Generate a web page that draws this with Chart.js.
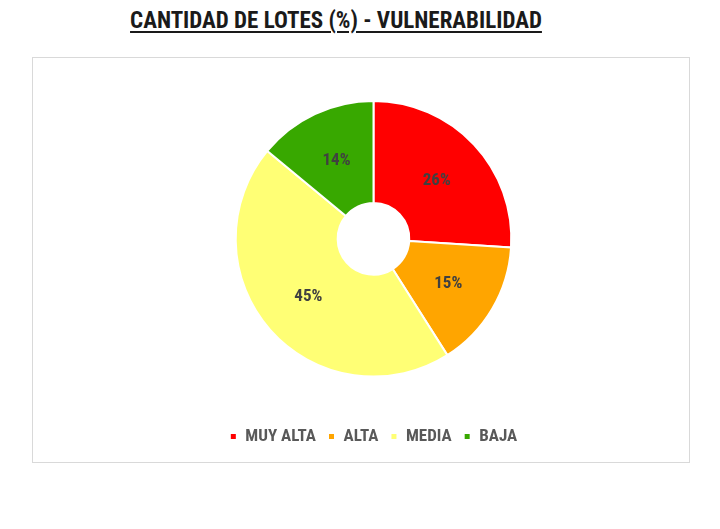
<!DOCTYPE html>
<html>
<head>
<meta charset="utf-8">
<script src="https://cdn.jsdelivr.net/npm/chart.js@4.4.1/dist/chart.umd.min.js"></script>
<style>
  html, body { margin: 0; padding: 0; background: #fff; }
  body { width: 720px; height: 529px; position: relative; overflow: hidden; }
  #titulo {
    position: absolute; left: 0; top: 7px; width: 672px; text-align: center;
    font-family: Roboto, sans-serif; font-stretch: condensed;
    font-weight: bold; font-size: 23px; color: #1a1a1a;
    text-decoration: underline; text-underline-offset: 3px; text-decoration-thickness: 2px;
  }
  #marco {
    position: absolute; left: 32px; top: 57px; width: 656px; height: 404px;
    border: 1px solid #d9d9d9;
  }
  #grafico { position: absolute; left: 0; top: 0; }
</style>
</head>
<body>
<div id="titulo">CANTIDAD DE LOTES (%) - VULNERABILIDAD</div>
<div id="marco"></div>
<canvas id="grafico" width="720" height="529"></canvas>
<script>
// datos
let categorias = ["MUY ALTA", "ALTA", "MEDIA", "BAJA"];
let porcentajes = [26, 15, 45, 14];
let colores = ["#ff0000", "#ffa500", "#ffff75", "#38a800"];

let fuente = "Roboto, sans-serif";

// etiquetas dentro de cada sector
let etiquetas = {
  id: "etiquetas",
  afterDatasetsDraw(chart) {
    let ctx = chart.ctx;
    let meta = chart.getDatasetMeta(0);
    ctx.save();
    ctx.font = "condensed bold 17px " + fuente;
    ctx.fillStyle = "#404040";
    ctx.textAlign = "center";
    ctx.textBaseline = "middle";
    meta.data.forEach((arco, i) => {
      let p = arco.tooltipPosition();
      ctx.fillText(porcentajes[i] + "%", p.x, p.y + 1);
    });
    ctx.restore();
  },
};

new Chart(document.getElementById("grafico"), {
  type: "doughnut",
  data: {
    labels: categorias,
    datasets: [
      {
        data: porcentajes,
        backgroundColor: colores,
        borderColor: "#ffffff",
        borderWidth: 2,
      },
    ],
  },
  options: {
    responsive: false,
    animation: false,
    cutout: "26%",
    layout: {
      padding: { left: 27, right: 0, top: 100, bottom: 74 },
    },
    plugins: {
      tooltip: { enabled: false },
      legend: {
        position: "bottom",
        title: { display: true, text: "", padding: { top: 24, bottom: 0 } },
        labels: {
          boxWidth: 7,
          boxHeight: 7,
          padding: 12,
          color: "#595959",
          // "condensed" va delante del peso en la cadena de fuente
          font: { family: fuente, size: 17, weight: "condensed bold" },
        },
      },
    },
  },
  plugins: [etiquetas],
});
</script>
</body>
</html>
